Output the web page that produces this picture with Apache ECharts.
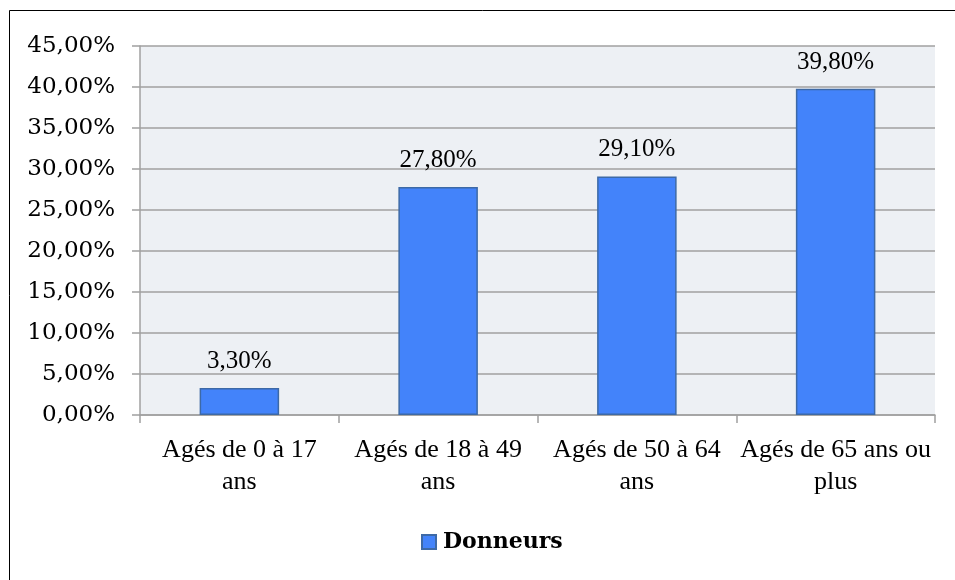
<!DOCTYPE html>
<html>
<head>
<meta charset="utf-8">
<script src="https://cdn.jsdelivr.net/npm/echarts@6/dist/echarts.min.js"></script>
<style>
  html, body { margin: 0; padding: 0; background: #fff; }
  #chart { width: 955px; height: 580px; }
</style>
</head>
<body>
<div id="chart"></div>
<script>
  // tranches d'âge
  const categories = ['Agés de 0 à 17\nans', 'Agés de 18 à 49\nans', 'Agés de 50 à 64\nans', 'Agés de 65 ans ou\nplus'];
  const donneurs = [3.3, 27.8, 29.1, 39.8];
  const seriesName = 'Donneurs';

  const fmt = (v) => v.toFixed(2).replace('.', ',') + '%';

  const chart = echarts.init(document.getElementById('chart'));
  const option = {
    animation: false,
    backgroundColor: '#fff',
    textStyle: { fontFamily: 'Liberation Serif' },
    graphic: [{
      type: 'rect',
      shape: { x: 9.5, y: 10.5, width: 2000, height: 2000 },
      style: { fill: 'none', stroke: '#000', lineWidth: 1 },
      silent: true
    }],
    grid: {
      left: 140, right: 20, top: 46, bottom: 165,
      show: true,
      backgroundColor: '#EDF0F4',
      borderWidth: 0
    },
    legend: {
      top: 526,
      left: 416,
      icon: 'rect',
      itemWidth: 14,
      itemHeight: 14,
      itemGap: 6,
      textStyle: { fontFamily: 'DejaVu Serif', fontWeight: 'bold', fontSize: 22, color: '#000', padding: [0, 0, 0, 2] },
      data: [seriesName]
    },
    xAxis: {
      type: 'category',
      data: categories,
      axisLine: { lineStyle: { color: '#A0A0A0', width: 1.5 } },
      axisTick: { show: true, length: 8, lineStyle: { color: '#A0A0A0', width: 1.5 } },
      axisLabel: { color: '#000', fontSize: 26, lineHeight: 32, margin: 19, interval: 0 }
    },
    yAxis: {
      type: 'value',
      min: 0,
      max: 45,
      interval: 5,
      axisLine: { show: true, lineStyle: { color: '#A0A0A0', width: 1.5 } },
      axisTick: { show: true, length: 8, lineStyle: { color: '#A0A0A0', width: 1.5 } },
      splitLine: { lineStyle: { color: '#A0A0A0', width: 1.5 } },
      axisLabel: { color: '#000', fontSize: 23, fontFamily: 'DejaVu Serif', margin: 25, formatter: fmt }
    },
    series: [{
      name: seriesName,
      type: 'bar',
      data: donneurs,
      barWidth: '40%',
      itemStyle: { color: '#4383FA', borderColor: '#3D69A6', borderWidth: 1.5 },
      label: {
        show: true,
        position: 'top',
        distance: 14,
        color: '#000',
        fontSize: 25,
        formatter: (p) => fmt(p.value)
      }
    }]
  };
  chart.setOption(option);
</script>
</body>
</html>
